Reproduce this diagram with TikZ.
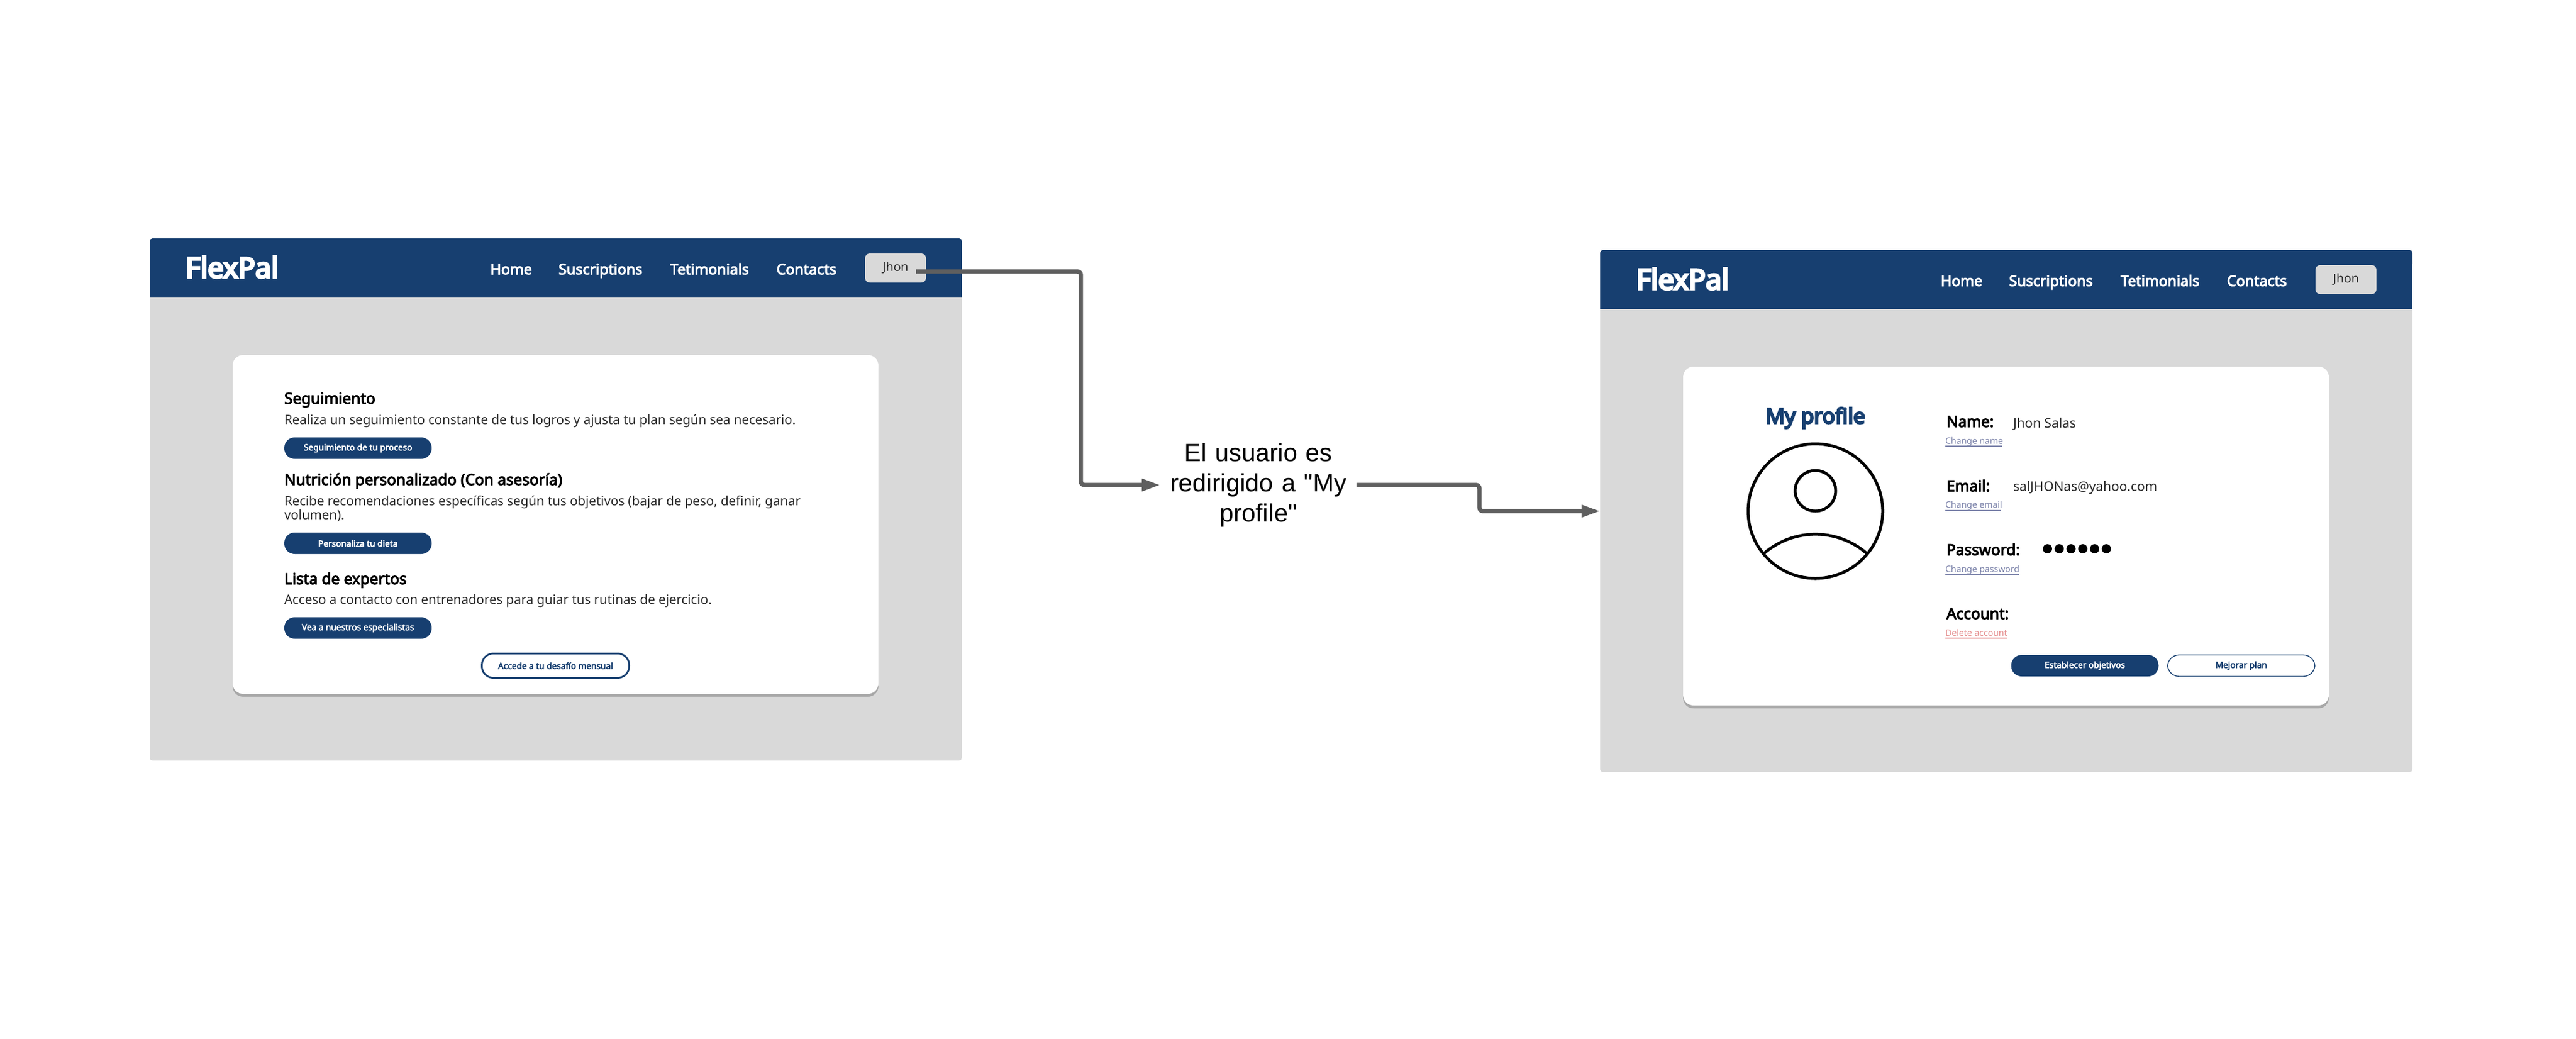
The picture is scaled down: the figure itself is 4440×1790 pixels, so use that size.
\documentclass[tikz,border=0pt]{standalone}
\usepackage{fontspec}
\setmainfont{Noto Sans}
\newfontfamily\labelfont{Liberation Sans}
\newfontfamily\semi[FakeBold=4]{Noto Sans}
\newfontfamily\heavy[FakeBold=7]{Noto Sans}
\definecolor{navy}{HTML}{173F70}
\definecolor{panel}{HTML}{D9D9D9}
\definecolor{conn}{HTML}{5F5F5F}
\definecolor{shadowc}{HTML}{A8A8A8}
\definecolor{linkc}{HTML}{7F86AC}
\definecolor{delc}{HTML}{E58E8E}
\definecolor{bodyc}{HTML}{2A2A2A}
\newcommand\fs[1]{\fontsize{#1}{#1}\selectfont}
\usetikzlibrary{arrows.meta}
\tikzset{
  x=0.5pt,y=-0.5pt,
  every node/.style={inner sep=0pt,outer sep=0pt},
  panelbox/.style={fill=panel,rounded corners=2.5pt,minimum width=700pt,minimum height=450pt,anchor=north west},
  cardbox/.style={fill=white,rounded corners=9pt,minimum width=556.5pt,minimum height=292pt,anchor=north west},
  cardshadow/.style={fill=shadowc,rounded corners=9pt,minimum width=556.5pt,minimum height=292pt,anchor=north west},
  brand/.style={text=white,font=\fs{24.4}\heavy,anchor=base},
  navitem/.style={text=white,font=\fs{12.6}\semi,anchor=base},
  userbtn/.style={fill=panel,rounded corners=4pt,minimum width=52.5pt,minimum height=25pt,anchor=center,text=bodyc,font=\fs{10.5}},
  heading/.style={text=black,font=\fs{13.2}\semi,anchor=base west},
  bodytxt/.style={text=bodyc,font=\fs{11.1},anchor=base west},
  fillbtn/.style={fill=navy,rounded corners=9pt,minimum width=127pt,minimum height=18.5pt,anchor=center,text=white,font=\fs{7.4}\semi},
  linebtn/.style={draw=navy,fill=white,rounded corners=10pt,minimum width=127pt,anchor=center,text=navy,font=\fs{7.4}\semi},
  fieldname/.style={text=black,font=\fs{13.2}\semi,anchor=base west},
  fieldval/.style={text=bodyc,font=\fs{11.3},anchor=base west},
  linktxt/.style={font=\fs{7.6},anchor=base west},
  connector/.style={draw=conn,line width=3.7pt,rounded corners=3pt},
  tipped/.style={connector,-{Triangle[length=16pt,width=10pt]}},
  userline/.style={draw=black,line width=2.5pt},
  caption/.style={font=\labelfont\fontsize{21.6}{26}\selectfont,text=black,align=center,text width=169pt,minimum width=169pt,minimum height=52pt,anchor=center},
}
\newcommand\appshell{%
  \node[panelbox] (panel) at (258,411) {};
  \fill[navy,rounded corners=2.5pt] (258,411) rectangle (1658,440);
  \fill[navy] (258,425) rectangle (1658,513);
  \node[brand] (logo) at (400,479) {FlexPal};
  \node[navitem] (home) at (881,473) {Home};
  \node[navitem] (subs) at (1035,473) {Suscriptions};
  \node[navitem] (test) at (1223,473) {Tetimonials};
  \node[navitem] (cont) at (1390,473) {Contacts};
  \node[userbtn] (user) at (1543.5,462) {Jhon};
  \node[cardshadow] (shadow) at (401,617) {};
  \node[cardbox] (card) at (401,612) {};
}
\begin{document}
\begin{tikzpicture}
\useasboundingbox (0,0) rectangle (4440,1790);
\fill[white] (0,0) rectangle (4440,1790);
% left screen
\begin{scope}[name prefix=l-]
  \appshell
  \node[heading] (t1) at (490,696) {Seguimiento};
  \node[bodytxt] (b1) at (490,731) {Realiza un seguimiento constante de tus logros y ajusta tu plan según sea necesario.};
  \node[fillbtn] (btn1) at (617,772.5) {Seguimiento de tu proceso};
  \node[heading] (t2) at (490,836) {Nutrición personalizado (Con asesoría)};
  \node[bodytxt] (b2) at (490,871) {Recibe recomendaciones específicas según tus objetivos (bajar de peso, definir, ganar};
  \node[bodytxt] (b2b) at (490,895) {volumen).};
  \node[fillbtn] (btn2) at (617,936.5) {Personaliza tu dieta};
  \node[heading] (t3) at (490,1007) {Lista de expertos};
  \node[bodytxt] (b3) at (490,1041) {Acceso a contacto con entrenadores para guiar tus rutinas de ejercicio.};
  \node[fillbtn] (btn3) at (617,1082.5) {Vea a nuestros especialistas};
  \node[linebtn,line width=1.5pt,minimum height=21pt] (btn4) at (957.5,1147.5) {Accede a tu desafío mensual};
\end{scope}
% right screen
\begin{scope}[shift={(2500,20)},name prefix=r-]
  \appshell
\end{scope}
\begin{scope}[name prefix=p-]
  \node[text=navy,font=\fs{18.2}\heavy,anchor=base] (title) at (3129,730) {My profile};
  \draw[userline] (3129,881) circle[radius=116];
  \draw[userline] (3129,846) circle[radius=35];
  \draw[userline] (3040.4,954) arc[start angle=229,end angle=311,radius=135];
  \node[fieldname] (n1) at (3355,736) {Name:};
  \node[fieldval] (v1) at (3470,737) {Jhon Salas};
  \node[linktxt,text=linkc] (c1) at (3353,765) {Change name};
  \node[fieldname] (n2) at (3355,847) {Email:};
  \node[fieldval] (v2) at (3470,846) {salJHONas@yahoo.com};
  \node[linktxt,text=linkc] (c2) at (3353,875) {Change email};
  \node[fieldname] (n3) at (3355,957) {Password:};
  \foreach \k in {0,...,5} {\fill[black] ({3529+20.3*\k},946) circle[radius=8];}
  \node[linktxt,text=linkc] (c3) at (3353,986) {Change password};
  \node[fieldname] (n4) at (3355,1067) {Account:};
  \node[linktxt,text=delc] (c4) at (3353,1096) {Delete account};
  \draw[linkc,line width=1pt] (3353,769) -- (3451,769);
  \draw[linkc,line width=1pt] (3353,880) -- (3449,880);
  \draw[linkc,line width=1pt] (3353,990) -- (3480,990);
  \draw[delc,line width=1pt] (3353,1100) -- (3460,1100);
  \node[fillbtn] (e) at (3593.5,1147.5) {Establecer objetivos};
  \node[linebtn,line width=0.7pt,minimum height=18.5pt] (m) at (3863,1147.5) {Mejorar plan};
\end{scope}
% connectors
\node[caption] (cap) at (2169,836) {El usuario es\\redirigido a "My\\profile"};
\coordinate (src) at (1579,468);
\coordinate (bend1) at (1863,468);
\coordinate (bend2) at (1863,836);
\coordinate (bend3) at (2550,836);
\coordinate (bend4) at (2550,881);
\draw[tipped] (src) -- (bend1) -- (bend2) -- (cap.west);
\draw[tipped] (cap.east) -- (bend3) -- (bend4) -- (r-panel.west);
\end{tikzpicture}
\end{document}
